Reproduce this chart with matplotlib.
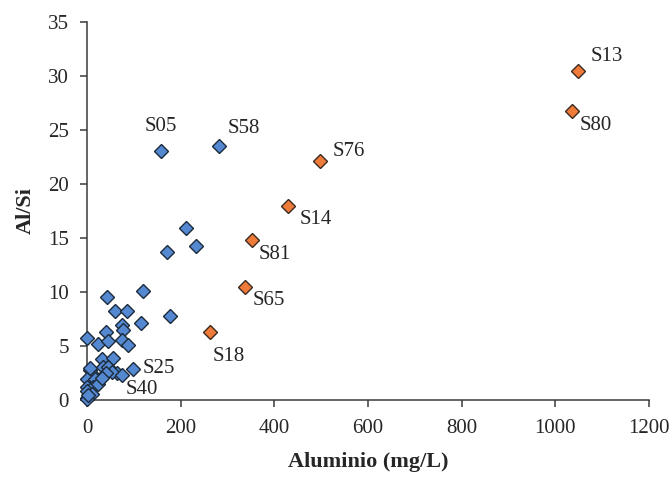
import matplotlib
matplotlib.use("Agg")
import matplotlib.pyplot as plt

# Samples: aluminium concentration (mg/L) and Al/Si ratio
blue_names = ["S05", "S58", "", "", "", "", "", "", "", "", "", "", "", "", "",
              "", "", "", "", "", "", "S25", "", "", "", "", "", "S40", "",
              "", "", "", "", "", "", "", "", "", "", "", "", ""]
blue_al = [158, 282, 211, 232, 171, 120, 42, 178, 60, 85, 115, 74, 77, 40, 1,
           24, 45, 74, 88, 31, 55, 99, 34, 45, 63, 53, 40, 74, 6,
           13, 1, 17, 0, 13, 0, 0, 10, 24, 31, 6, 0, 3]
blue_ratio = [23.1, 23.5, 15.9, 14.3, 13.7, 10.1, 9.5, 7.8, 8.2, 8.2, 7.1, 6.9, 6.5, 6.3, 5.7,
              5.2, 5.5, 5.6, 5.1, 3.8, 3.9, 2.9, 3.1, 3.1, 2.5, 2.6, 2.5, 2.3, 2.8,
              2.3, 1.9, 1.9, 1.2, 1.2, 0.8, 0.2, 0.6, 1.5, 2.0, 3.0, 0.05, 0.5]

orange_names = ["S13", "S80", "S76", "S14", "S81", "S65", "S18"]
orange_al = [1048, 1035, 497, 429, 352, 337, 262]
orange_ratio = [30.5, 26.8, 22.1, 18.0, 14.8, 10.5, 6.3]

x_ticks = [0, 200, 400, 600, 800, 1000, 1200]
y_ticks = [0, 5, 10, 15, 20, 25, 30, 35]

# label placement: (dx, dy) in pixels, horizontal alignment
label_style = {
    "S13": (13, 14, "left"), "S80": (8, -15, "left"), "S76": (13, 10, "left"),
    "S14": (12, -14, "left"), "S81": (7, -14, "left"), "S65": (8, -14, "left"),
    "S18": (3, -25, "left"), "S05": (0, 24, "center"), "S58": (9, 18, "left"),
    "S25": (9, 0, "left"), "S40": (4, -14, "left"),
}

plt.rcParams["font.family"] = ["Liberation Serif", "DejaVu Serif"]
text_color = "#262626"
axis_color = "#3a3a3a"

fig = plt.figure(figsize=(6.72, 4.92), dpi=100)
ax = fig.add_axes([87 / 672, 92 / 492, (649 - 87) / 672, (400 - 22) / 492])

ax.plot(blue_al, blue_ratio, linestyle="none", marker="D", markersize=7.4,
        markerfacecolor="#5489d2", markeredgecolor="#1c2a3a", markeredgewidth=1.0,
        zorder=3, clip_on=False)
ax.plot(orange_al, orange_ratio, linestyle="none", marker="D", markersize=7.2,
        markerfacecolor="#ee7b3a", markeredgecolor="#3a2a20", markeredgewidth=1.0,
        zorder=3, clip_on=False)

px = 72 / fig.dpi
for names, xs, ys in [(blue_names, blue_al, blue_ratio),
                      (orange_names, orange_al, orange_ratio)]:
    for name, x, y in zip(names, xs, ys):
        if not name:
            continue
        dx, dy, ha = label_style[name]
        ax.annotate(name, (x, y), xytext=(dx * px, dy * px), textcoords="offset points",
                    ha=ha, va="center", fontsize=15, color=text_color, zorder=4)

ax.set_xlim(0, 1200)
ax.set_ylim(0, 35)
ax.set_xticks(x_ticks)
ax.set_yticks(y_ticks)
ax.set_xticklabels([str(v) for v in x_ticks])
ax.set_yticklabels([str(v) for v in y_ticks])

for side in ["top", "right"]:
    ax.spines[side].set_visible(False)
for side in ["left", "bottom"]:
    ax.spines[side].set_color(axis_color)
    ax.spines[side].set_linewidth(1.1)

ax.tick_params(axis="both", direction="out", length=5, width=1.1, color=axis_color,
               labelsize=15, labelcolor=text_color)
ax.tick_params(axis="x", pad=9)
ax.tick_params(axis="y", pad=8)

ax.set_xlabel("Aluminio (mg/L)", fontsize=16, fontweight="bold", color=text_color,
              labelpad=10)
ax.set_ylabel("Al/Si", fontsize=16, fontweight="bold", color=text_color, labelpad=9)

fig.savefig("out.png", dpi=100)
